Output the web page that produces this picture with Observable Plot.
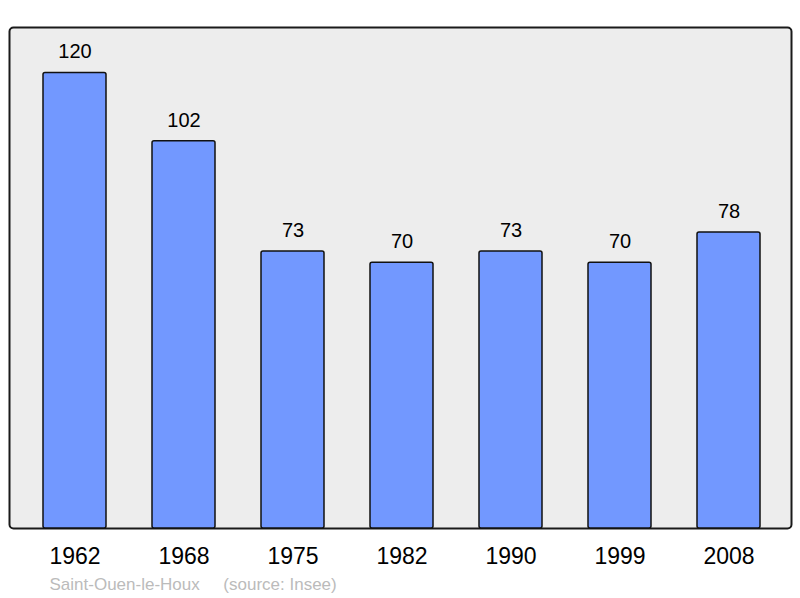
<!DOCTYPE html>
<html>
<head>
<meta charset="utf-8">
<script src="https://cdn.jsdelivr.net/npm/d3@7"></script>
<script src="https://cdn.jsdelivr.net/npm/@observablehq/plot@0.6"></script>
<style>
  html, body { margin: 0; padding: 0; background: #ffffff; }
</style>
</head>
<body>
<div id="chart"></div>
<script>
const years = ["1962", "1968", "1975", "1982", "1990", "1999", "2008"];
const population = [120, 102, 73, 70, 73, 70, 78];
const commune = "Saint-Ouen-le-Houx";
const source = "(source: Insee)";

const data = years.map((y, i) => ({year: y, value: population[i]}));

const chart = Plot.plot({
  width: 800,
  height: 598,
  marginLeft: 9,
  marginRight: 9,
  marginTop: 27,
  marginBottom: 70,
  style: {fontFamily: "'Liberation Sans', Arial, sans-serif", background: "#ffffff"},
  x: {domain: years, paddingInner: 0.42, paddingOuter: 0.21, insetLeft: 9.5, insetRight: 5.5, axis: null},
  y: {domain: [0, 132], axis: null},
  marks: [
    Plot.frame({fill: "#ededed", stroke: "#1a1a1a", strokeWidth: 2, rx: 4}),
    Plot.barY(data, {x: "year", y: "value", fill: "#7298ff", stroke: "#111", strokeWidth: 1.5, rx: 2}),
    Plot.text(data, {x: "year", y: "value", text: d => String(d.value), dy: -21, fontSize: 20, fill: "#000", lineAnchor: "middle"}),
    Plot.text(years, {x: d => d, text: d => d, frameAnchor: "bottom", dy: 28, fontSize: 23, fill: "#000", lineAnchor: "middle"}),
    Plot.text([commune + "\u00a0\u00a0\u00a0\u00a0\u00a0" + source], {text: d => d, frameAnchor: "bottom-left", textAnchor: "start", dx: 40, dy: 56, fontSize: 17, fill: "#bbbbbb", lineAnchor: "middle"})
  ]
});
document.getElementById("chart").appendChild(chart);
</script>
</body>
</html>
